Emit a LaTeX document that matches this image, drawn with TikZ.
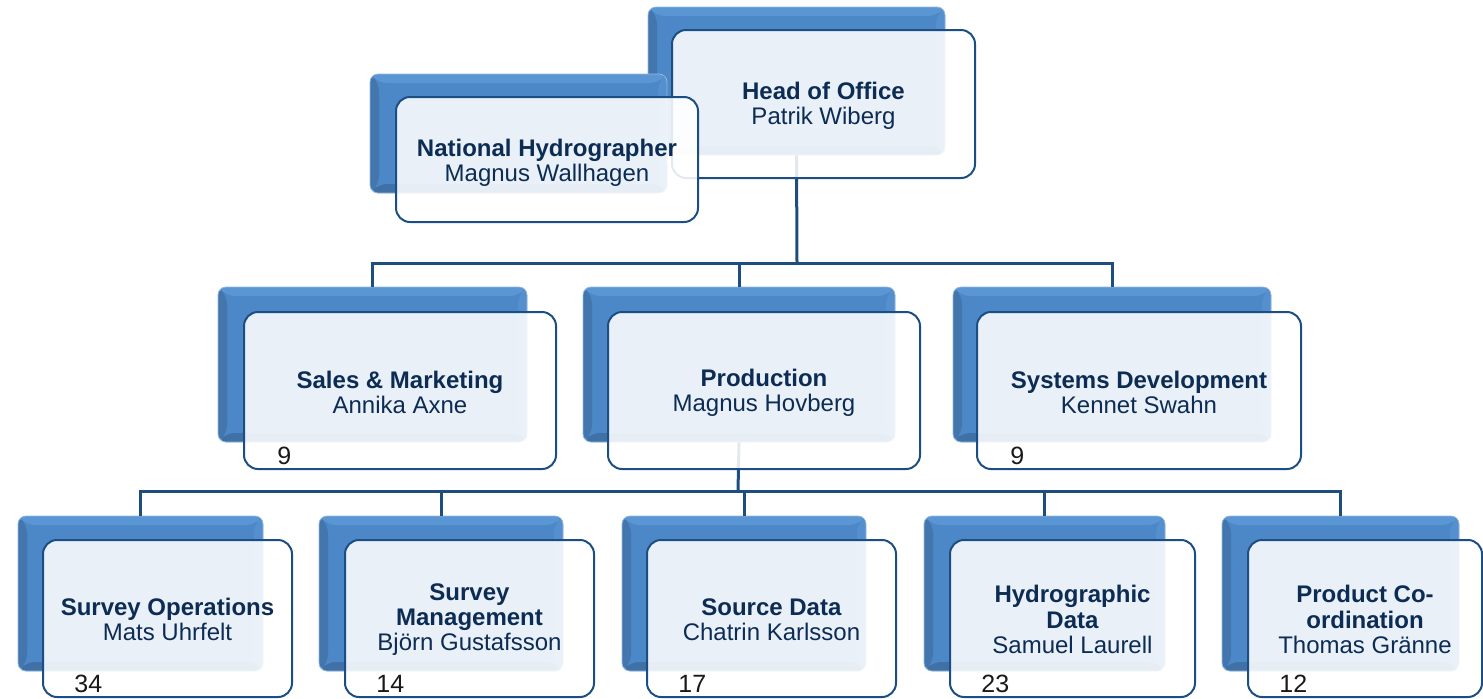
\documentclass[tikz,border=0pt]{standalone}
\usepackage{fontspec}
\setmainfont{Liberation Sans}
\usetikzlibrary{fit,calc}
\definecolor{bbase}{HTML}{4C88C7}
\definecolor{btop}{HTML}{5A96D3}
\definecolor{bleft}{HTML}{4476AE}
\definecolor{bbot}{HTML}{3F70A6}
\definecolor{bright}{HTML}{558FCD}
\definecolor{fborder}{HTML}{1B4E84}
\definecolor{conncol}{HTML}{1E4E7E}
\definecolor{txtcol}{HTML}{0C2C54}
\tikzset{
  backbox/.style={rounded corners=4pt, fill=bbase, draw=bbase!60!white, line width=0.4pt, inner sep=0pt,
    path picture={
      \fill[btop] (path picture bounding box.north west) -- (path picture bounding box.north east)
        -- ([shift={(-9,9)}]path picture bounding box.north east) -- ([shift={(9,9)}]path picture bounding box.north west) -- cycle;
      \fill[bleft] (path picture bounding box.north west) -- ([shift={(9,9)}]path picture bounding box.north west)
        -- ([shift={(9,-9)}]path picture bounding box.south west) -- (path picture bounding box.south west) -- cycle;
      \fill[bright] (path picture bounding box.north east) -- ([shift={(-9,9)}]path picture bounding box.north east)
        -- ([shift={(-9,-9)}]path picture bounding box.south east) -- (path picture bounding box.south east) -- cycle;
      \fill[bbot] (path picture bounding box.south west) -- ([shift={(9,-9)}]path picture bounding box.south west)
        -- ([shift={(-9,-9)}]path picture bounding box.south east) -- (path picture bounding box.south east) -- cycle;
    }},
  frontbox/.style={rounded corners=7pt, fill=white, fill opacity=0.88, draw=fborder, draw opacity=1,
    line width=1pt, inner sep=0pt},
  boxtext/.style={inner sep=0pt, align=center, text=txtcol, font=\fontsize{12}{12.6}\selectfont},
  conn/.style={draw=conncol, line width=1.5pt},
  numlabel/.style={anchor=base west, inner sep=0pt, text=black!90, font=\fontsize{12.5}{12.5}\selectfont}
}
\begin{document}
\begin{tikzpicture}[x=0.5pt,y=-0.5pt]
\useasboundingbox (0,0) rectangle (1483,698);
% ---- back boxes (top level)
\node[backbox, fit={(648,7)(945,155)}] (hob) {};
% ---- back boxes level 2
\node[backbox, fit={(218,287)(527,442)}] (smb) {};
\node[backbox, fit={(583,287)(895,442)}] (prb) {};
\node[backbox, fit={(953,287)(1271,442)}] (sdb) {};
% ---- back boxes level 3
\node[backbox, fit={(18,516)(263,671)}] (sob) {};
\node[backbox, fit={(319,516)(563,671)}] (smgb) {};
\node[backbox, fit={(622,516)(866,671)}] (srcb) {};
\node[backbox, fit={(924,516)(1165,671)}] (hdb) {};
\node[backbox, fit={(1222,516)(1459,671)}] (pcb) {};
% ---- connectors
\coordinate (j1) at (797,263);
\coordinate (j2) at (738,491);
\draw[conn] (hob.south) -- (j1);
\draw[conn] (smb.north) |- (j1);
\draw[conn] (prb.north) |- (j1);
\draw[conn] (sdb.north) |- (j1);
\draw[conn] (prb.south) -- (j2);
\draw[conn] (sob.north) |- (j2);
\draw[conn] (smgb.north) |- (j2);
\draw[conn] (srcb.north) |- (j2);
\draw[conn] (hdb.north) |- (j2);
\draw[conn] (pcb.north) |- (j2);
% ---- top level front boxes
\node[frontbox, fit={(672,30)(975,178)}] (ho) {};
\node[boxtext] (hot) at ($(ho.center)+(0,2)$) {\textbf{Head of Office}\\Patrik Wiberg};
\node[backbox, fit={(370,74)(667,193)}] (nhb) {};
\node[frontbox, fit={(396,97)(698,222)}] (nh) {};
\node[boxtext] (nht) at ($(nh.center)+(0,3)$) {\textbf{National Hydrographer}\\Magnus Wallhagen};
% ---- level 2 front boxes
\node[frontbox, fit={(244,312)(556,469)}] (sm) {};
\node[boxtext] (smt) at ($(sm.center)+(0,2)$) {\textbf{Sales \& Marketing}\\Annika Axne};
\node[frontbox, fit={(608,312)(920,469)}] (pr) {};
\node[boxtext] (prt) at ($(pr.center)+(0,2)$) {\textbf{Production}\\Magnus Hovberg};
\node[frontbox, fit={(977,312)(1301,469)}] (sd) {};
\node[boxtext] (sdt) at ($(sd.center)+(0,2)$) {\textbf{Systems Development}\\Kennet Swahn};
% ---- level 3 front boxes
\node[frontbox, fit={(43,540)(292,697)}] (so) {};
\node[boxtext] (sot) at ($(so.center)+(0,1)$) {\textbf{Survey Operations}\\Mats Uhrfelt};
\node[frontbox, fit={(345,540)(594,697)}] (smg) {};
\node[boxtext] (smgt) at ($(smg.center)+(0,1)$) {\textbf{Survey}\\\textbf{Management}\\Björn Gustafsson};
\node[frontbox, fit={(647,540)(896,697)}] (src) {};
\node[boxtext] (srct) at ($(src.center)+(0,1)$) {\textbf{Source Data}\\Chatrin Karlsson};
\node[frontbox, fit={(950,540)(1195,697)}] (hd) {};
\node[boxtext] (hdt) at ($(hd.center)+(0,1)$) {\textbf{Hydrographic}\\\textbf{Data}\\Samuel Laurell};
\node[frontbox, fit={(1248,540)(1482,697)}] (pc) {};
\node[boxtext] (pct) at ($(pc.center)+(0,1)$) {\textbf{Product Co-}\\\textbf{ordination}\\Thomas Gränne};
% ---- staff numbers
\node[numlabel] (smn) at ($(sm.south west)+(34,-6)$) {9};
\node[numlabel] (sdn) at ($(sd.south west)+(34,-6)$) {9};
\node[numlabel] (son) at ($(so.south west)+(32,-6)$) {34};
\node[numlabel] (smgn) at ($(smg.south west)+(32,-6)$) {14};
\node[numlabel] (srcn) at ($(src.south west)+(32,-6)$) {17};
\node[numlabel] (hdn) at ($(hd.south west)+(32,-6)$) {23};
\node[numlabel] (pcn) at ($(pc.south west)+(32,-6)$) {12};
\end{tikzpicture}
\end{document}
